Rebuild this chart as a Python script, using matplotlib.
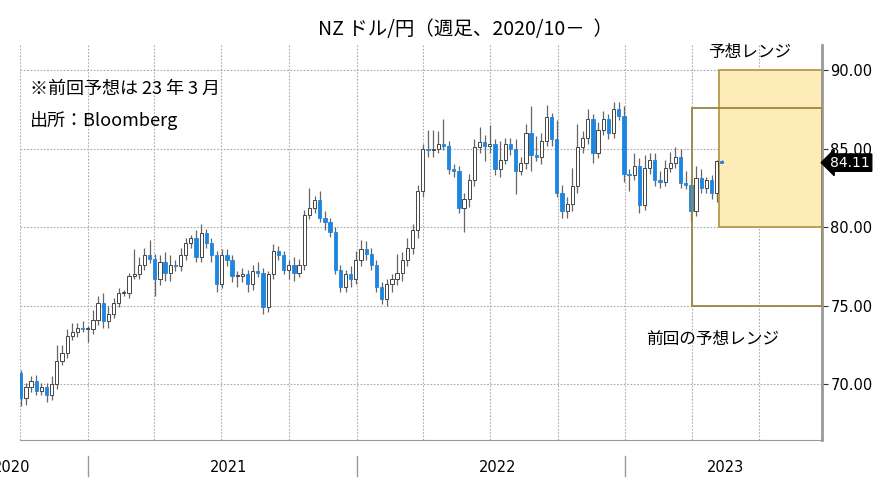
import matplotlib
matplotlib.use("Agg")
import matplotlib.pyplot as plt
import matplotlib.dates as mdates
import numpy as np
import datetime as dt

plt.rcParams["font.family"] = "Noto Sans CJK JP"

first_open = 70.7
closes = [69.1, 69.8, 70.2, 69.6, 69.8, 69.3, 70.0, 71.5, 72.0, 73.1, 73.3, 73.6, 73.5, 73.5,
          74.1, 75.2, 74.0, 74.5, 75.2, 75.8, 75.8, 76.9, 77.0, 77.6, 78.2, 78.0, 76.7, 77.8,
          77.1, 77.6, 77.5, 78.2, 79.0, 79.3, 78.1, 79.6, 79.0, 78.2, 76.4, 78.2, 77.9, 76.9,
          76.9, 77.0, 76.4, 77.2, 77.1, 74.9, 77.0, 78.5, 78.2, 77.3, 77.6, 77.1, 77.6, 80.8,
          81.2, 81.7, 80.6, 80.3, 79.7, 77.3, 76.2, 77.0, 76.7, 77.9, 78.6, 78.3, 77.6, 76.2,
          75.4, 76.4, 76.7, 77.1, 77.9, 78.7, 79.8, 82.3,
          85.0, 84.9, 85.0, 85.3, 85.2, 83.7, 83.6, 81.2, 81.8, 83.0, 85.1, 85.4, 85.2, 85.3,
          83.7, 84.3, 85.3, 85.0, 83.6, 84.1, 86.0, 84.6, 84.5, 85.5, 87.0, 85.6, 82.2, 81.0,
          81.5, 82.6, 85.1, 85.7, 86.9, 84.7, 86.2, 86.9, 86.0, 87.5, 87.1, 83.4, 83.3, 83.9,
          81.4, 83.8, 84.3, 83.0, 82.9, 83.8, 84.1, 84.5, 82.8, 82.7, 81.0, 83.1, 82.5, 83.0,
          82.2, 84.2, 84.11]
wick_up = [0.2, 0.3, 0.3, 0.4, 0.3, 0.3, 0.5, 1.0, 0.5, 0.4, 0.6, 0.3, 0.4, 0.2,
           0.6, 0.4, 0.6, 0.5, 0.3, 0.3, 0.2, 0.2, 1.6, 0.5, 0.5, 1.0, 0.3, 0.4,
           0.6, 0.6, 0.3, 0.5, 0.3, 0.2, 0.5, 0.6, 0.3, 0.3, 0.3, 0.4, 0.4, 0.3,
           0.3, 0.4, 0.3, 0.4, 0.6, 0.3, 0.2, 0.4, 0.3, 0.3, 0.3, 0.5, 0.4, 0.3,
           1.3, 0.3, 0.6, 0.4, 0.3, 0.3, 0.3, 0.3, 0.5, 0.6, 0.6, 0.5, 0.4, 0.3,
           0.3, 0.3, 0.3, 1.2, 0.5, 0.6, 0.4, 0.4,
           0.3, 1.2, 1.2, 0.8, 1.6, 0.3, 0.3, 0.3, 0.4, 0.4, 0.5, 1.0, 0.5, 1.2,
           0.3, 1.2, 0.4, 0.4, 0.6, 0.4, 0.6, 1.7, 1.2, 0.5, 0.8, 0.3, 1.2, 0.5,
           0.4, 1.2, 1.5, 0.4, 0.6, 0.3, 0.5, 0.5, 0.3, 0.5, 0.5, 0.6, 0.3, 0.8,
           0.5, 0.8, 0.4, 0.4, 0.6, 0.5, 0.7, 0.6, 0.5, 0.8, 0.4, 0.8, 0.6, 0.2,
           0.3, 0.1, 0.1]
wick_dn = [0.5, 0.4, 0.3, 0.3, 0.3, 0.4, 0.3, 0.3, 0.3, 0.3, 0.3, 0.3, 0.2, 0.8,
           0.3, 0.3, 0.4, 0.4, 0.3, 0.3, 0.2, 0.3, 0.2, 0.3, 0.3, 0.3, 1.1, 0.4,
           0.5, 0.5, 0.3, 0.3, 0.3, 0.3, 0.3, 0.3, 0.3, 0.4, 0.5, 0.3, 0.4, 0.4,
           0.7, 0.4, 0.5, 0.4, 0.3, 0.4, 0.3, 0.3, 0.3, 0.3, 0.6, 0.5, 0.3, 0.3,
           0.3, 0.3, 0.3, 0.5, 0.3, 0.3, 0.3, 0.3, 0.5, 0.3, 0.4, 0.4, 0.3, 0.3,
           0.3, 0.4, 0.5, 0.4, 0.5, 0.4, 0.4, 0.5,
           0.4, 0.4, 0.4, 0.3, 0.3, 0.3, 0.4, 0.3, 1.5, 0.5, 0.4, 0.4, 1.0, 0.5,
           0.4, 0.5, 0.3, 0.4, 1.5, 0.3, 0.4, 1.0, 0.3, 0.5, 0.3, 0.4, 0.3, 0.4,
           0.4, 0.5, 0.4, 0.4, 0.4, 0.6, 0.3, 0.3, 0.4, 0.3, 0.3, 0.5, 1.0, 0.3,
           0.5, 0.3, 0.4, 0.4, 0.4, 0.3, 0.3, 0.3, 0.3, 0.3, 0.6, 0.3, 0.3, 0.3,
           0.4, 0.6, 0.0]

years = ["2020", "2021", "2022", "2023"]
yticks = [70, 75, 80, 85, 90]
last_label = "84.11"
prev_range = (75.0, 87.6)
cur_range = (80.0, 90.0)

start = dt.date(2020, 10, 2)
dates = [start + dt.timedelta(weeks=i) for i in range(len(closes))]
x = mdates.date2num(dates)
opens = [first_open] + closes[:-1]

fig = plt.figure(figsize=(8.77, 4.83), dpi=100)
ax = fig.add_axes([20 / 877, 43 / 483, 802 / 877, 395 / 483])
xmin = mdates.date2num(dt.date(2020, 10, 1))
xmax = mdates.date2num(dt.date(2023, 9, 25))
ax.set_xlim(xmin, xmax)
ax.set_ylim(66.45, 91.6)

blue = "#1f86e0"
for xi, o, c, wu, wd in zip(x, opens, closes, wick_up, wick_dn):
    hi = max(o, c) + wu
    lo = min(o, c) - wd
    ax.vlines(xi, lo, hi, color="#666666", lw=0.9, zorder=2)
    if c < o:
        ax.bar(xi, o - c, bottom=c, width=4.4, color=blue, edgecolor=blue, lw=0.6, zorder=3)
    else:
        ax.bar(xi, max(c - o, 0.06), bottom=o, width=4.4, color="white",
               edgecolor="#444444", lw=0.7, zorder=3)

# forecast boxes
p0 = mdates.date2num(dt.date(2023, 4, 1))
c0 = mdates.date2num(dt.date(2023, 5, 8))
ax.add_patch(plt.Rectangle((p0, prev_range[0]), xmax - p0, prev_range[1] - prev_range[0],
                           fill=False, edgecolor="#9c8440", lw=1.3, zorder=4))
ax.add_patch(plt.Rectangle((c0, cur_range[0]), xmax - c0, cur_range[1] - cur_range[0],
                           facecolor="#fdebb8", edgecolor="#b89a48", lw=1.3, zorder=1))

# grid
qtrs = [dt.date(y, m, 1) for y in (2020, 2021, 2022, 2023) for m in (1, 4, 7, 10)]
for q in qtrs:
    qn = mdates.date2num(q)
    if xmin <= qn <= xmax:
        ax.axvline(qn, color="#aaaaaa", ls=(0, (1.5, 1.5)), lw=0.8, zorder=0)
for yv in yticks:
    ax.axhline(yv, color="#aaaaaa", ls=(0, (1.5, 1.5)), lw=0.8, zorder=0)

for s in ["top", "left"]:
    ax.spines[s].set_visible(False)
ax.spines["right"].set_color("#999999")
ax.spines["right"].set_linewidth(2)
ax.spines["bottom"].set_color("#999999")
ax.yaxis.tick_right()
ax.set_yticks(yticks)
ax.set_yticklabels([f"{v:.2f}" for v in yticks], fontsize=10.5, family="DejaVu Sans")
ax.tick_params(axis="y", length=4, color="#333333", pad=2)
ax.set_xticks([])

# year separators and labels
for y in years:
    ys = mdates.date2num(dt.date(int(y), 1, 1))
    if ys > xmin:
        ax.plot([ys, ys], [-0.04, -0.09], transform=ax.get_xaxis_transform(),
                color="#999999", lw=1, clip_on=False)
fig.text(-7 / 877, 1 - 467 / 483, "2020", fontsize=10.5, va="center", ha="left", family="DejaVu Sans")
for y, px in zip(years[1:], [229, 498, 725]):
    fig.text(px / 877, 1 - 467 / 483, y, fontsize=10.5, va="center", ha="center", family="DejaVu Sans")

# last value marker
ax.annotate(last_label, xy=(1.0, closes[-1]), xycoords=("axes fraction", "data"),
            xytext=(6, 0), textcoords="offset points", va="center", ha="left",
            color="white", fontsize=10, family="DejaVu Sans",
            bbox=dict(boxstyle="larrow,pad=0.12", fc="black", ec="black"),
            annotation_clip=False, zorder=6)

fig.text(465 / 877, 1 - 30 / 483, "NZ ドル/円（週足、2020/10－  ）", fontsize=14, ha="center", va="center")
fig.text(30 / 877, 1 - 89 / 483, "※前回予想は 23 年 3 月", fontsize=13, va="center")
fig.text(30 / 877, 1 - 120 / 483, "出所：Bloomberg", fontsize=13, va="center")
fig.text(750 / 877, 1 - 52 / 483, "予想レンジ", fontsize=12, ha="center", va="center")
fig.text(713 / 877, 1 - 339 / 483, "前回の予想レンジ", fontsize=12, ha="center", va="center")

fig.savefig("out.png", dpi=100)
